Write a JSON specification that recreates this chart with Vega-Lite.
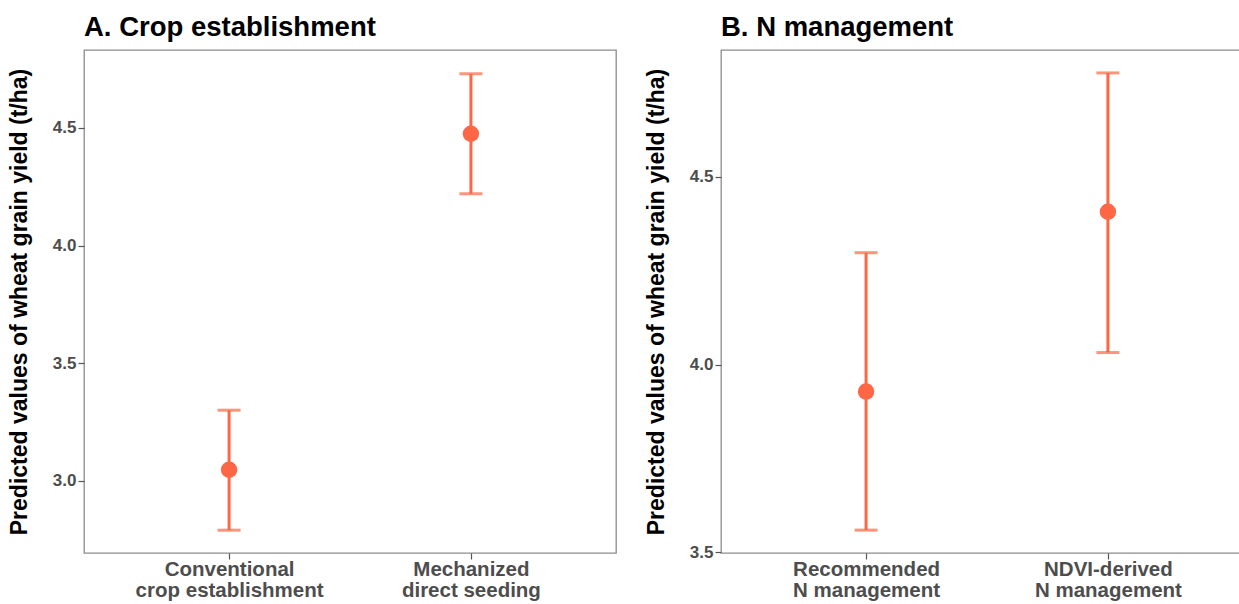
{
  "$schema": "https://vega.github.io/schema/vega-lite/v6.json",
  "padding": {"left": 7, "top": 12, "right": -13, "bottom": 2},
  "background": "white",
  "spacing": 27,
  "datasets": {
    "crop": [
      {"group": "Conventional|crop establishment", "mean": 3.047, "lower": 2.79, "upper": 3.30},
      {"group": "Mechanized|direct seeding", "mean": 4.475, "lower": 4.22, "upper": 4.73}
    ],
    "nman": [
      {"group": "Recommended|N management", "mean": 3.928, "lower": 3.559, "upper": 4.298},
      {"group": "NDVI-derived|N management", "mean": 4.407, "lower": 4.032, "upper": 4.777}
    ]
  },
  "hconcat": [
    {
      "title": {"text": "A. Crop establishment"},
      "width": 532,
      "height": 503,
      "data": {"name": "crop"},
      "layer": [
        {
          "mark": {"type": "errorbar", "ticks": {"size": 23, "thickness": 3, "color": "#FF6646"}, "rule": {"strokeWidth": 3, "color": "#FF6646"}},
          "encoding": {
            "x": {"field": "group", "type": "nominal", "sort": null, "scale": {"type": "point", "padding": 0.6},
                  "axis": {"title": null, "labelExpr": "split(datum.label, '|')", "labelAngle": 0}},
            "y": {"field": "lower", "type": "quantitative", "scale": {"domain": [2.693, 4.831], "nice": false, "zero": false},
                  "axis": {"title": "Predicted values of wheat grain yield (t/ha)", "values": [3.0, 3.5, 4.0, 4.5], "format": ".1f"}},
            "y2": {"field": "upper"}
          }
        },
        {
          "mark": {"type": "circle", "size": 270, "opacity": 1, "color": "#FF6646"},
          "encoding": {
            "x": {"field": "group", "type": "nominal", "sort": null},
            "y": {"field": "mean", "type": "quantitative"}
          }
        }
      ]
    },
    {
      "title": {"text": "B. N management"},
      "width": 532,
      "height": 503,
      "data": {"name": "nman"},
      "layer": [
        {
          "mark": {"type": "errorbar", "ticks": {"size": 23, "thickness": 3, "color": "#FF6646"}, "rule": {"strokeWidth": 3, "color": "#FF6646"}},
          "encoding": {
            "x": {"field": "group", "type": "nominal", "sort": null, "scale": {"type": "point", "padding": 0.6},
                  "axis": {"title": null, "labelExpr": "split(datum.label, '|')", "labelAngle": 0}},
            "y": {"field": "lower", "type": "quantitative", "scale": {"domain": [3.498, 4.838], "nice": false, "zero": false},
                  "axis": {"title": "Predicted values of wheat grain yield (t/ha)", "values": [3.5, 4.0, 4.5], "format": ".1f"}},
            "y2": {"field": "upper"}
          }
        },
        {
          "mark": {"type": "circle", "size": 270, "opacity": 1, "color": "#FF6646"},
          "encoding": {
            "x": {"field": "group", "type": "nominal", "sort": null},
            "y": {"field": "mean", "type": "quantitative"}
          }
        }
      ]
    }
  ],
  "config": {
    "font": "Liberation Sans",
    "view": {"stroke": "#8c8c8c", "strokeWidth": 1.3},
    "title": {"font": "Liberation Sans", "fontSize": 27.5, "fontWeight": "bold", "color": "#000000", "anchor": "start", "frame": "group", "offset": 9},
    "axis": {
      "grid": false,
      "domain": false,
      "tickColor": "#555555",
      "tickSize": 6,
      "tickWidth": 1.2,
      "labelFont": "Liberation Sans",
      "labelFontWeight": "bold",
      "labelColor": "#4d4d4d",
      "labelPadding": 2,
      "labelLimit": 0,
      "titleFont": "Liberation Sans",
      "titleFontWeight": "bold",
      "titleColor": "#000000"
    },
    "axisY": {"labelFontSize": 17, "titleFontSize": 23, "titlePadding": 21},
    "axisX": {"labelFontSize": 20.5, "labelLineHeight": 21, "labelPadding": 0}
  }
}
